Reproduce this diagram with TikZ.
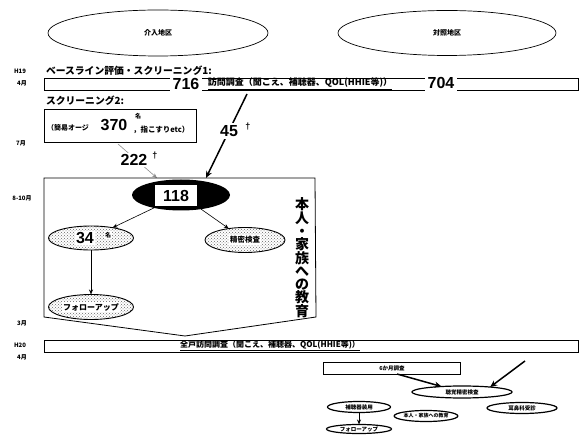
\documentclass[tikz,border=0pt]{standalone}
\usepackage{fontspec}
\setmainfont{Liberation Sans}
\newfontfamily\jp{Noto Sans CJK JP}
\usetikzlibrary{shapes.geometric,arrows.meta,patterns}
\begin{document}
\begin{tikzpicture}[x=1pt,y=-1pt,
  every node/.style={inner sep=0pt, outer sep=0pt},
  jpf/.style={font=\jp\bfseries\fontsize{#1}{#1}\selectfont},
  num/.style={font=\bfseries\fontsize{#1}{#1}\selectfont},
  area/.style={ellipse, draw, line width=0.7pt},
  stipple/.style={ellipse, draw, line width=0.9pt, pattern=crosshatch dots, pattern color=black!60},
  smallell/.style={ellipse, draw, line width=1.2pt},
  arr/.style={-{Stealth[length=5pt,width=4pt]}, line width=0.6pt},
  bigarr/.style={-{Stealth[length=7pt,width=6pt]}, line width=1.5pt},
  barbox/.style={draw, line width=0.9pt, anchor=north west},
]
\useasboundingbox (0,0) rectangle (581,435);

% areas
\node[area, jpf=7, minimum width=220pt, minimum height=46pt] (kainyu) at (158,33) {介入地区};
\node[area, jpf=7, minimum width=218pt, minimum height=45pt] (taisho) at (447,33) {対照地区};

% month labels
\node[jpf=6] (mH19) at (20,71) {H19};
\node[jpf=6] (mA1) at (22,83) {4月};
\node[jpf=6] (m7) at (21,143) {7月};
\node[jpf=6] (m810) at (22,198) {8-10月};
\node[jpf=6] (m3) at (22,323) {3月};
\node[jpf=6] (mH20) at (20,345) {H20};
\node[jpf=6] (mA2) at (22,357) {4月};

% baseline
\node[jpf=9.8, anchor=west] (base) at (46,71) {ベースライン評価・スクリーニング1:};
\node[barbox, minimum width=534pt, minimum height=12pt] (bar1) at (44,78) {};
\node[num=16, fill=white, inner ysep=2pt, inner xsep=3pt] (n716) at (186,84) {716};
\node[jpf=9] (visit1) at (300,84) {\underline{訪問調査（聞こえ、補聴器、QOL(HHIE等)）}};
\node[num=16, fill=white, inner ysep=2pt, inner xsep=3pt] (n704) at (441,83) {704};

% screening 2
\node[jpf=9.8, anchor=west] (scr2T) at (46,101) {スクリーニング2:};
\node[barbox, minimum width=152pt, minimum height=33pt] (box2) at (44,109) {};
\node[jpf=7, anchor=west] (kan) at (47,128) {（簡易オージ};
\node[num=16] (n370) at (114,125) {370};
\node[jpf=6] (mei370) at (138,116) {名};
\node[jpf=7.5, anchor=west] (yubi) at (133,130) {，指こすりetc）};

% arrows into the education block
\coordinate (a222s) at (118,144);
\coordinate (a222e) at (157,178);
\draw[arr, black!45] (a222s) -- (a222e);
\node[num=16, fill=white, inner sep=1pt] (n222) at (134,160) {222};
\node[num=9] (d222) at (155,156) {†};
\coordinate (a45s) at (247,94);
\coordinate (a45e) at (206,178);
\draw[bigarr] (a45s) -- (a45e);
\node[num=16, fill=white, inner sep=2pt] (n45) at (229,131) {45};
\node[num=9] (d45) at (248,127) {†};

% education block
\coordinate (pA) at (44,178);
\coordinate (pB) at (315,178);
\coordinate (pC) at (316,317);
\coordinate (pD) at (185,336);
\coordinate (pE) at (44,317);
\draw[line width=0.8pt] (pA) -- (pB) -- (pC) -- (pD) -- (pE) -- cycle;

\node[ellipse, fill=black, minimum width=98pt, minimum height=31pt] (e118) at (181,195) {};
\node[num=16, fill=white, minimum width=42pt, minimum height=21pt] (n118) at (176,196) {118};

\node[stipple, minimum width=85pt, minimum height=24pt] (e34) at (91,238) {};
\node[num=16, fill=white, inner sep=1pt] (n34) at (85,238) {34};
\node[jpf=6, fill=white, inner sep=1pt] (m34) at (108,235) {名};

\node[stipple, minimum width=80pt, minimum height=25pt] (eSei) at (245,240) {};
\node[jpf=7.5, fill=white, inner sep=1pt] (tSei) at (245,240) {精密検査};

\node[stipple, minimum width=85pt, minimum height=25pt] (eFu) at (91,307) {};
\node[jpf=8, fill=white, inner sep=1pt] (tFu) at (91,307) {フォローアップ};

\draw[arr] (e118) -- (e34);
\draw[arr] (e118) -- (eSei);
\draw[arr] (e34) -- (eFu);

\node[font=\jp\bfseries\fontsize{14}{12.8}\selectfont, align=center] (edu) at (302,258)
  {本\\人\\・\\家\\族\\へ\\の\\教\\育};

% H20 bar
\node[barbox, minimum width=534pt, minimum height=12pt] (bar2) at (44,340) {};
\node[jpf=8] (visit2) at (270,346) {\underline{全戸訪問調査（聞こえ、補聴器、QOL(HHIE等)）}};

% bottom right flow
\node[draw, line width=0.7pt, minimum width=137pt, minimum height=12pt, jpf=5.5] (b6) at (392,368) {6か月調査};
\node[smallell, minimum width=100pt, minimum height=12pt, jpf=5.5] (eCho) at (462,392) {聴覚精密検査};
\coordinate (aRs) at (525,361);
\draw[bigarr] ([xshift=5pt]b6.south) -- (eCho.165);
\draw[bigarr] (aRs) -- (eCho.10);
\node[smallell, minimum width=63pt, minimum height=11pt, jpf=5.5] (eHo) at (359,407) {補聴器装用};
\node[smallell, minimum width=58pt, minimum height=11pt, jpf=5] (eKyo) at (426,416) {本人・家族への教育};
\node[smallell, minimum width=70pt, minimum height=11pt, jpf=5.5] (eJi) at (522,408) {耳鼻科受診};
\node[smallell, minimum width=65pt, minimum height=9pt, jpf=5.5] (eFu2) at (359,429) {フォローアップ};
\draw[-{Stealth[length=5pt,width=4pt]}, line width=1pt] (eHo) -- (eFu2);
\end{tikzpicture}
\end{document}
